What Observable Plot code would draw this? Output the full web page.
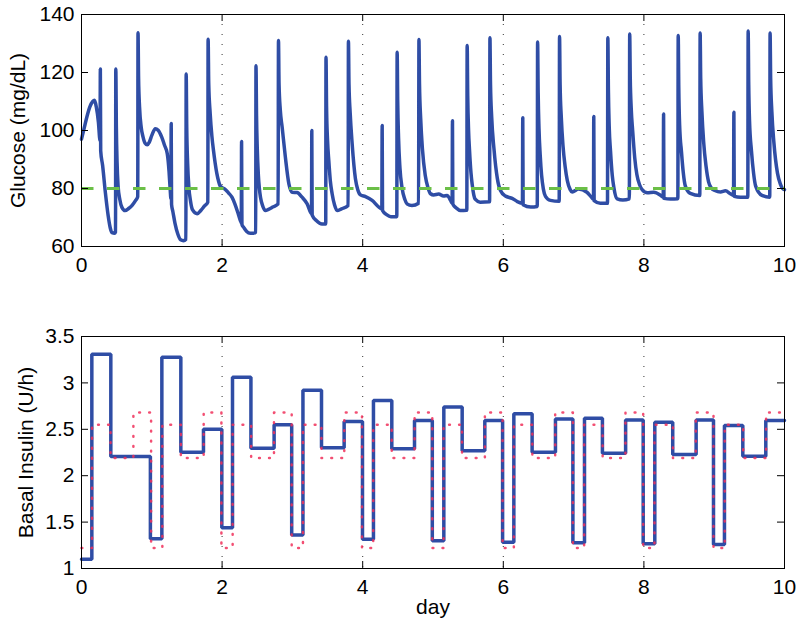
<!DOCTYPE html>
<html><head><meta charset="utf-8">
<script src="https://cdn.jsdelivr.net/npm/d3@7"></script>
<script src="https://cdn.jsdelivr.net/npm/@observablehq/plot@0.6"></script>
<style>
html,body{margin:0;padding:0;background:#fff;}
#chart{width:800px;height:628px;}
#chart svg{display:block;}
</style></head><body><div id="chart"></div>
<script>
// ---------- data ----------
const dayTicks = [0, 2, 4, 6, 8, 10];
const dayGrid = [2, 4, 6, 8];
const glucoseTicks = [60, 80, 100, 120, 140];
const insulinTicks = [1, 1.5, 2, 2.5, 3, 3.5];
const glucoseTarget = 80;
const glucoseLabel = "Glucose (mg/dL)";
const insulinLabel = "Basal Insulin (U/h)";
const xLabel = "day";

const glucose0 = [[0.000,97.0],[0.035,100.5],[0.080,105.0],[0.120,108.2],[0.160,110.0],[0.185,110.4],[0.210,108.2],[0.240,103.0],[0.264,96.5],[0.268,121.2],[0.273,93.0],[0.300,88.0],[0.340,78.5],[0.380,70.5],[0.410,66.3],[0.435,64.8],[0.470,64.6],[0.484,65.0],[0.488,121.2],[0.496,101.0],[0.506,89.0],[0.520,81.0],[0.545,76.2],[0.575,73.5],[0.620,72.4],[0.670,73.1],[0.720,74.2],[0.770,75.9],[0.800,77.2],[0.804,133.7],[0.812,118.0],[0.826,108.0],[0.850,101.0],[0.875,97.8],[0.905,95.6],[0.935,95.1],[0.965,96.0]];
const glucose1 = [[1.000,98.3],[1.050,100.6],[1.090,100.1],[1.140,97.8],[1.180,95.0],[1.220,92.0],[1.245,86.0],[1.262,79.5],[1.272,76.5],[1.276,102.4],[1.281,74.5],[1.300,72.0],[1.330,68.0],[1.370,64.3],[1.410,62.3],[1.450,62.0],[1.485,62.5],[1.489,119.5],[1.497,101.0],[1.510,88.5],[1.527,80.5],[1.550,75.8],[1.580,72.6],[1.645,71.3],[1.700,72.5],[1.750,74.0],[1.797,75.3],[1.801,131.5],[1.810,116.0],[1.830,106.0],[1.855,98.0],[1.878,93.0],[1.900,89.0],[1.925,85.2],[1.950,82.5],[1.970,81.0]];
const glucose2 = [[2.000,80.3],[2.040,79.8],[2.090,78.5],[2.140,77.0],[2.180,74.8],[2.220,72.0],[2.255,69.3],[2.273,68.2],[2.277,96.2],[2.282,67.6],[2.310,66.5],[2.350,65.2],[2.400,64.6],[2.450,64.6],[2.478,65.0],[2.482,122.3],[2.490,105.0],[2.500,94.0],[2.515,85.0],[2.530,80.0],[2.546,77.0],[2.580,73.8],[2.617,72.4],[2.660,72.8],[2.720,73.6],[2.797,74.7],[2.802,131.0],[2.810,116.0],[2.828,107.0],[2.855,101.0],[2.900,90.8],[2.950,81.6],[2.995,78.7]];
const glucose3 = [[3.066,78.6],[3.137,77.0],[3.210,74.7],[3.272,71.3],[3.276,100.0],[3.281,70.8],[3.340,69.0],[3.420,67.8],[3.474,67.8],[3.478,125.3],[3.486,108.0],[3.500,96.5],[3.518,89.5],[3.540,82.5],[3.565,78.2],[3.600,74.3],[3.636,72.4],[3.700,73.0],[3.793,74.1],[3.797,130.8],[3.805,116.0],[3.822,106.0],[3.850,95.4],[3.897,83.3],[3.930,79.6],[3.968,77.8]];
const glucose4 = [[4.040,77.2],[4.134,75.9],[4.230,73.6],[4.272,73.0],[4.277,101.7],[4.282,72.4],[4.340,71.0],[4.400,70.3],[4.485,70.3],[4.490,127.0],[4.498,110.0],[4.510,97.5],[4.530,87.0],[4.560,80.2],[4.600,76.2],[4.630,74.7],[4.700,74.1],[4.795,74.9],[4.800,131.4],[4.808,116.0],[4.825,104.0],[4.850,93.5],[4.890,84.5],[4.930,80.2],[4.965,78.2]];
const glucose5 = [[5.010,77.8],[5.080,78.1],[5.150,77.4],[5.200,77.6],[5.250,75.9],[5.272,74.9],[5.277,103.4],[5.282,74.6],[5.330,73.3],[5.390,72.4],[5.481,72.5],[5.486,129.3],[5.494,112.0],[5.506,100.0],[5.520,93.0],[5.540,85.5],[5.557,81.5],[5.580,77.8],[5.600,76.3],[5.670,75.3],[5.805,75.4],[5.810,132.0],[5.818,116.0],[5.835,104.5],[5.868,93.5],[5.915,83.5],[5.960,79.3]];
const glucose6 = [[6.030,77.4],[6.126,76.6],[6.200,75.5],[6.272,74.9],[6.277,104.4],[6.282,74.4],[6.390,73.6],[6.483,73.8],[6.488,130.5],[6.496,113.0],[6.508,100.5],[6.525,91.5],[6.545,84.5],[6.570,79.8],[6.600,77.3],[6.670,75.9],[6.795,75.6],[6.800,132.4],[6.808,116.0],[6.825,104.5],[6.850,94.5],[6.880,87.5],[6.910,82.8],[6.950,79.7],[6.980,78.8]];
const glucose7 = [[7.070,79.8],[7.190,78.7],[7.260,76.8],[7.283,76.3],[7.287,104.8],[7.292,75.8],[7.380,74.9],[7.482,74.9],[7.487,132.0],[7.495,114.0],[7.507,101.0],[7.525,93.0],[7.550,84.5],[7.573,80.3],[7.620,76.4],[7.700,76.0],[7.793,76.4],[7.798,133.3],[7.806,118.0],[7.820,107.5],[7.840,100.0],[7.870,90.5],[7.900,84.8],[7.940,81.2],[7.975,79.6]];
const glucose8 = [[8.050,78.5],[8.140,78.7],[8.240,77.6],[8.275,77.0],[8.280,105.7],[8.285,76.6],[8.378,76.4],[8.483,76.5],[8.488,132.8],[8.496,115.0],[8.508,102.0],[8.535,92.5],[8.560,85.5],[8.590,80.8],[8.660,78.3],[8.795,77.6],[8.800,133.6],[8.808,118.0],[8.825,106.5],[8.850,96.0],[8.885,87.5],[8.920,82.3],[8.960,80.2]];
const glucose9 = [[9.010,79.3],[9.090,78.8],[9.160,79.2],[9.230,78.2],[9.275,77.6],[9.280,106.3],[9.285,77.3],[9.374,77.0],[9.478,77.0],[9.483,134.3],[9.491,116.0],[9.503,103.0],[9.530,93.0],[9.560,85.3],[9.590,80.8],[9.680,77.6],[9.790,77.0],[9.795,133.6],[9.803,118.0],[9.820,106.5],[9.850,95.6],[9.900,85.3],[9.940,81.6],[9.970,80.1],[10.000,79.6]];

const basalDay  = [0,0.147,0.417,0.98,1.143,1.413,1.735,1.996,2.148,2.41,2.74,2.99,3.15,3.414,3.736,3.997,4.153,4.414,4.737,4.99,5.154,5.415,5.737,5.99,6.15,6.41,6.742,6.99,7.155,7.41,7.74,7.99,8.155,8.41,8.743,8.99,9.146,9.407,9.734,10];
const basalRate = [1.10,3.31,2.207,1.32,3.277,2.253,2.50,1.438,3.06,2.297,2.55,1.36,2.92,2.30,2.584,1.316,2.81,2.29,2.595,1.30,2.74,2.27,2.595,1.283,2.667,2.253,2.61,1.277,2.62,2.242,2.60,1.266,2.577,2.228,2.60,1.259,2.54,2.21,2.595,2.595];

const targetDay  = [0,0.15,0.413,0.738,0.99,1.15,1.413,1.738,1.99,2.15,2.413,2.738,2.99,3.15,3.413,3.738,3.99,4.15,4.413,4.738,4.99,5.15,5.413,5.738,5.99,6.15,6.413,6.738,6.99,7.15,7.413,7.738,7.99,8.15,8.413,8.738,8.99,9.15,9.413,9.738,10];
const targetRate = [1.22,2.55,2.19,2.68,1.22,2.55,2.19,2.68,1.22,2.55,2.19,2.68,1.22,2.55,2.19,2.68,1.22,2.55,2.19,2.68,1.22,2.55,2.19,2.68,1.22,2.55,2.19,2.68,1.22,2.55,2.19,2.68,1.22,2.55,2.19,2.68,1.22,2.55,2.19,2.68,2.68];

// ---------- drawing ----------
const glucose = [].concat(glucose0, glucose1, glucose2, glucose3, glucose4, glucose5, glucose6, glucose7, glucose8, glucose9);
const basal = basalDay.map((d, i) => ({day: d, rate: basalRate[i]}));
const target = targetDay.map((d, i) => ({day: d, rate: targetRate[i]}));

const FONT = "'Liberation Sans', Arial, Helvetica, sans-serif";
const BLUE = "#2f4da5", GREEN = "#6bbf47", RED = "#f0305a";
const ML = 81, MR = 16, FW = 800 - ML - MR;

function inwardTicks(xt, yt, fh) {
  const len = 7;
  return [
    Plot.tickX(xt, {x: d => d, insetTop: fh - len, stroke: "#000", strokeWidth: 1}),
    Plot.tickX(xt, {x: d => d, insetBottom: fh - len, stroke: "#000", strokeWidth: 1}),
    Plot.tickY(yt, {y: d => d, insetRight: FW - len, stroke: "#000", strokeWidth: 1}),
    Plot.tickY(yt, {y: d => d, insetLeft: FW - len, stroke: "#000", strokeWidth: 1})
  ];
}
const style = {fontFamily: FONT, fontSize: "21px", color: "#000", background: "#fff", overflow: "visible"};

const topPlot = Plot.plot({
  width: 800, height: 300, marginLeft: ML, marginRight: MR, marginTop: 14, marginBottom: 54,
  style,
  x: {domain: [0, 10]},
  y: {domain: [60, 140]},
  marks: [
    Plot.ruleX(dayGrid, {x: d => d, stroke: "#333", strokeWidth: 1, strokeDasharray: "1,9"}),
    Plot.line(glucose, {x: d => d[0], y: d => d[1], stroke: BLUE, strokeWidth: 3.5, curve: "monotone-x", strokeLinejoin: "round"}),
    Plot.ruleY([glucoseTarget], {y: d => d, stroke: GREEN, strokeWidth: 3.2, strokeDasharray: "12.5,13.5"}),
    ...inwardTicks(dayTicks, glucoseTicks, 232),
    Plot.axisX(dayTicks, {tickSize: 0, tickPadding: 11, fontSize: 21, label: null, tickFormat: d => String(d)}),
    Plot.axisY(glucoseTicks, {tickSize: 0, tickPadding: 7, fontSize: 21, label: null, tickFormat: d => String(d)}),
    Plot.text([glucoseLabel], {text: d => d, frameAnchor: "left", textAnchor: "middle", rotate: -90, dx: -63, fontSize: 21}),
    Plot.frame({stroke: "#000", strokeWidth: 1})
  ]
});

const bottomPlot = Plot.plot({
  width: 800, height: 328, marginLeft: ML, marginRight: MR, marginTop: 36, marginBottom: 60,
  style,
  x: {domain: [0, 10]},
  y: {domain: [1, 3.5]},
  marks: [
    Plot.ruleX(dayGrid, {x: d => d, stroke: "#333", strokeWidth: 1, strokeDasharray: "1,9"}),
    Plot.line(basal, {x: "day", y: "rate", curve: "step-after", stroke: BLUE, strokeWidth: 3.5, strokeLinejoin: "miter"}),
    Plot.line(target, {x: "day", y: "rate", curve: "step-after", stroke: RED, strokeOpacity: 0.85, strokeWidth: 2.5, strokeDasharray: "0.8,9.2"}),
    ...inwardTicks(dayTicks, insulinTicks, 232),
    Plot.axisX(dayTicks, {tickSize: 0, tickPadding: 11, fontSize: 21, label: null, tickFormat: d => String(d)}),
    Plot.axisY(insulinTicks, {tickSize: 0, tickPadding: 7, fontSize: 21, label: null, tickFormat: d => String(d)}),
    Plot.text([insulinLabel], {text: d => d, frameAnchor: "left", textAnchor: "middle", rotate: -90, dx: -55, fontSize: 21}),
    Plot.text([xLabel], {text: d => d, frameAnchor: "bottom", dy: 45, fontSize: 21}),
    Plot.frame({stroke: "#000", strokeWidth: 1})
  ]
});

const chart = document.getElementById("chart");
chart.append(topPlot, bottomPlot);
</script>
</body></html>
